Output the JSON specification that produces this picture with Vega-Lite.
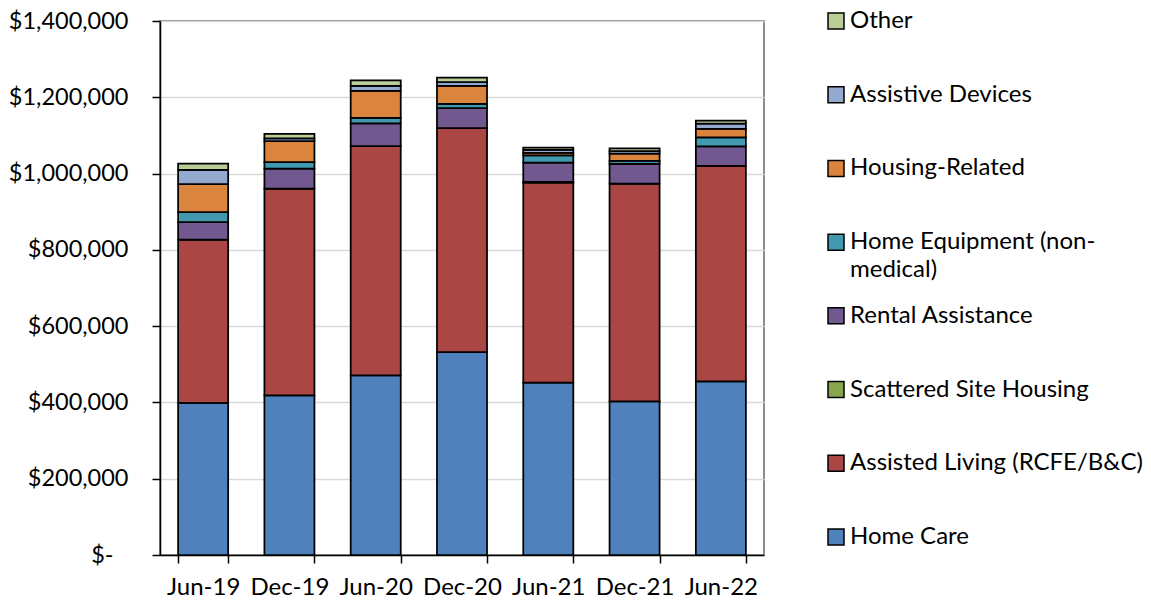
{
  "$schema": "https://vega.github.io/schema/vega-lite/v6.json",
  "background": "white",
  "padding": {"left": 7, "top": 8, "right": 5, "bottom": 5},
  "config": {"font": "Lato", "view": {"stroke": "#8c8c8c", "strokeWidth": 2}},
  "spacing": 60,
  "hconcat": [
    {
      "width": 604,
      "height": 534,
      "data": {"values": [
        {"period": "Jun-19", "category": "Home Care", "amount": 399000},
        {"period": "Jun-19", "category": "Assisted Living (RCFE/B&C)", "amount": 427600},
        {"period": "Jun-19", "category": "Scattered Site Housing", "amount": 0},
        {"period": "Jun-19", "category": "Rental Assistance", "amount": 46400},
        {"period": "Jun-19", "category": "Home Equipment (non-medical)", "amount": 26000},
        {"period": "Jun-19", "category": "Housing-Related", "amount": 73600},
        {"period": "Jun-19", "category": "Assistive Devices", "amount": 37400},
        {"period": "Jun-19", "category": "Other", "amount": 16000},
        {"period": "Dec-19", "category": "Home Care", "amount": 418700},
        {"period": "Dec-19", "category": "Assisted Living (RCFE/B&C)", "amount": 541600},
        {"period": "Dec-19", "category": "Scattered Site Housing", "amount": 0},
        {"period": "Dec-19", "category": "Rental Assistance", "amount": 52700},
        {"period": "Dec-19", "category": "Home Equipment (non-medical)", "amount": 17000},
        {"period": "Dec-19", "category": "Housing-Related", "amount": 55000},
        {"period": "Dec-19", "category": "Assistive Devices", "amount": 7000},
        {"period": "Dec-19", "category": "Other", "amount": 12000},
        {"period": "Jun-20", "category": "Home Care", "amount": 471000},
        {"period": "Jun-20", "category": "Assisted Living (RCFE/B&C)", "amount": 600900},
        {"period": "Jun-20", "category": "Scattered Site Housing", "amount": 0},
        {"period": "Jun-20", "category": "Rental Assistance", "amount": 59900},
        {"period": "Jun-20", "category": "Home Equipment (non-medical)", "amount": 13900},
        {"period": "Jun-20", "category": "Housing-Related", "amount": 70800},
        {"period": "Jun-20", "category": "Assistive Devices", "amount": 13100},
        {"period": "Jun-20", "category": "Other", "amount": 14900},
        {"period": "Dec-20", "category": "Home Care", "amount": 532000},
        {"period": "Dec-20", "category": "Assisted Living (RCFE/B&C)", "amount": 587400},
        {"period": "Dec-20", "category": "Scattered Site Housing", "amount": 0},
        {"period": "Dec-20", "category": "Rental Assistance", "amount": 52500},
        {"period": "Dec-20", "category": "Home Equipment (non-medical)", "amount": 10500},
        {"period": "Dec-20", "category": "Housing-Related", "amount": 47200},
        {"period": "Dec-20", "category": "Assistive Devices", "amount": 10000},
        {"period": "Dec-20", "category": "Other", "amount": 12000},
        {"period": "Jun-21", "category": "Home Care", "amount": 451700},
        {"period": "Jun-21", "category": "Assisted Living (RCFE/B&C)", "amount": 524300},
        {"period": "Jun-21", "category": "Scattered Site Housing", "amount": 2000},
        {"period": "Jun-21", "category": "Rental Assistance", "amount": 50500},
        {"period": "Jun-21", "category": "Home Equipment (non-medical)", "amount": 19500},
        {"period": "Jun-21", "category": "Housing-Related", "amount": 6000},
        {"period": "Jun-21", "category": "Assistive Devices", "amount": 8000},
        {"period": "Jun-21", "category": "Other", "amount": 6000},
        {"period": "Dec-21", "category": "Home Care", "amount": 403000},
        {"period": "Dec-21", "category": "Assisted Living (RCFE/B&C)", "amount": 570500},
        {"period": "Dec-21", "category": "Scattered Site Housing", "amount": 0},
        {"period": "Dec-21", "category": "Rental Assistance", "amount": 52000},
        {"period": "Dec-21", "category": "Home Equipment (non-medical)", "amount": 7500},
        {"period": "Dec-21", "category": "Housing-Related", "amount": 19000},
        {"period": "Dec-21", "category": "Assistive Devices", "amount": 7000},
        {"period": "Dec-21", "category": "Other", "amount": 7000},
        {"period": "Jun-22", "category": "Home Care", "amount": 455000},
        {"period": "Jun-22", "category": "Assisted Living (RCFE/B&C)", "amount": 565500},
        {"period": "Jun-22", "category": "Scattered Site Housing", "amount": 0},
        {"period": "Jun-22", "category": "Rental Assistance", "amount": 50700},
        {"period": "Jun-22", "category": "Home Equipment (non-medical)", "amount": 23800},
        {"period": "Jun-22", "category": "Housing-Related", "amount": 22000},
        {"period": "Jun-22", "category": "Assistive Devices", "amount": 14000},
        {"period": "Jun-22", "category": "Other", "amount": 8000}
      ]},
      "transform": [
        {"calculate": "indexof(['Home Care', 'Assisted Living (RCFE/B&C)', 'Scattered Site Housing', 'Rental Assistance', 'Home Equipment (non-medical)', 'Housing-Related', 'Assistive Devices', 'Other'], datum.category)", "as": "stackRank"}
      ],
      "mark": {"type": "bar", "stroke": "black", "strokeWidth": 1.75},
      "encoding": {
        "x": {
          "field": "period", "type": "nominal", "sort": null,
          "scale": {"paddingInner": 0.42, "paddingOuter": 0.21},
          "axis": {"title": null, "labelAngle": 0, "labelFontSize": 24, "labelColor": "black", "tickBand": "extent", "tickSize": 8, "tickColor": "black", "tickWidth": 1.5, "domainColor": "black", "domainWidth": 1.5, "labelPadding": 12, "grid": false}
        },
        "y": {
          "field": "amount", "type": "quantitative", "stack": "zero",
          "scale": {"domain": [0, 1400000], "nice": false},
          "axis": {"title": null, "values": [0, 200000, 400000, 600000, 800000, 1000000, 1200000, 1400000], "labelExpr": "datum.value == 0 ? '$-' : '$' + format(datum.value, ',')", "labelFontSize": 23.5, "labelColor": "black", "gridColor": "#d9d9d9", "gridWidth": 1.5, "tickSize": 8, "tickColor": "black", "tickWidth": 1.5, "domainColor": "black", "domainWidth": 1.5, "labelPadding": {"condition": {"test": "datum.value == 0", "value": 39}, "value": 24}}
        },
        "order": {"field": "stackRank", "type": "quantitative", "sort": "ascending"},
        "color": {
          "field": "category", "type": "nominal",
          "scale": {
            "domain": ["Home Care", "Assisted Living (RCFE/B&C)", "Scattered Site Housing", "Rental Assistance", "Home Equipment (non-medical)", "Housing-Related", "Assistive Devices", "Other"],
            "range": ["#4F81BD", "#AA4643", "#89A54E", "#71588F", "#4198AF", "#DB843D", "#93A9CF", "#B9CD96"]
          },
          "legend": null
        }
      }
    },
    {
      "width": 16,
      "height": 516,
      "view": {"stroke": null},
      "data": {"values": [
        {"category": "Other", "label": "Other"},
        {"category": "Assistive Devices", "label": "Assistive Devices"},
        {"category": "Housing-Related", "label": "Housing-Related"},
        {"category": "Home Equipment (non-medical)", "label": "Home Equipment (non-\nmedical)"},
        {"category": "Rental Assistance", "label": "Rental Assistance"},
        {"category": "Scattered Site Housing", "label": "Scattered Site Housing"},
        {"category": "Assisted Living (RCFE/B&C)", "label": "Assisted Living (RCFE/B&C)"},
        {"category": "Home Care", "label": "Home Care"}
      ]},
      "encoding": {
        "y": {
          "field": "category", "type": "nominal",
          "sort": ["Other", "Assistive Devices", "Housing-Related", "Home Equipment (non-medical)", "Rental Assistance", "Scattered Site Housing", "Assisted Living (RCFE/B&C)", "Home Care"],
          "scale": {"type": "point", "padding": 0},
          "axis": null
        }
      },
      "layer": [
        {
          "mark": {"type": "square", "size": 256, "filled": true, "stroke": "black", "strokeWidth": 1.5, "opacity": 1},
          "encoding": {
            "color": {
              "field": "category", "type": "nominal",
              "scale": {
                "domain": ["Home Care", "Assisted Living (RCFE/B&C)", "Scattered Site Housing", "Rental Assistance", "Home Equipment (non-medical)", "Housing-Related", "Assistive Devices", "Other"],
                "range": ["#4F81BD", "#AA4643", "#89A54E", "#71588F", "#4198AF", "#DB843D", "#93A9CF", "#B9CD96"]
              },
              "legend": null
            }
          }
        },
        {
          "mark": {"type": "text", "align": "left", "baseline": "top", "dx": 14, "dy": -12, "fontSize": 24, "lineHeight": 28, "lineBreak": "\n", "color": "black"},
          "encoding": {"text": {"field": "label"}}
        }
      ]
    }
  ]
}
